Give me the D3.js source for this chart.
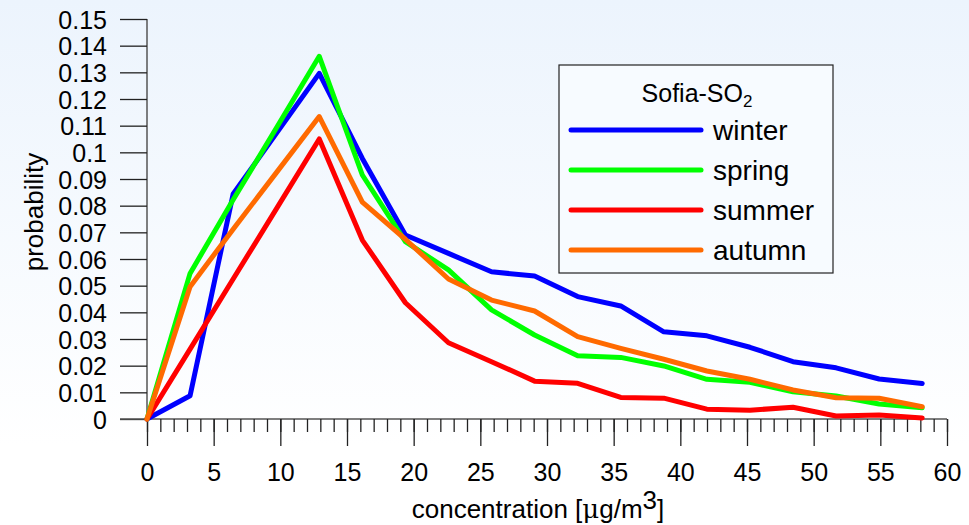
<!DOCTYPE html>
<html><head><meta charset="utf-8">
<script src="https://cdn.jsdelivr.net/npm/d3@7"></script>
<style>body{margin:0;padding:0;overflow:hidden;}svg{display:block;font-family:"Liberation Sans",Arial,sans-serif;}</style>
</head><body>
<svg id="chart" width="969" height="525"></svg>
<script>
const concentration = [0,3.23,6.46,9.69,12.92,16.15,19.38,22.61,25.84,29.07,32.3,35.53,38.76,41.99,45.22,48.45,51.68,54.91,58.14];
const winter = [0,0.0087,0.0844,0.107,0.1296,0.0977,0.069,0.0621,0.0552,0.0536,0.0459,0.0424,0.0327,0.0312,0.0269,0.0215,0.0192,0.015,0.0133];
const spring = [0,0.0546,0.0822,0.109,0.136,0.0915,0.0665,0.0559,0.0409,0.0315,0.0237,0.0231,0.0199,0.0149,0.0138,0.0102,0.0086,0.0056,0.0042];
const summer = [0,0.0262,0.0525,0.0787,0.105,0.0671,0.0436,0.0286,0.0215,0.0142,0.0134,0.0081,0.0078,0.0037,0.0033,0.0044,0.0011,0.0015,0.0004];
const autumn = [0,0.0496,0.0712,0.0923,0.1134,0.0813,0.0674,0.0525,0.0446,0.0405,0.0309,0.0265,0.0224,0.018,0.0149,0.0109,0.008,0.0078,0.0046];
const seriesNames = ["winter","spring","summer","autumn"];
const seriesColors = ["#0000ff","#00ff00","#ff0000","#ff6a00"];
const xTicks = [0,5,10,15,20,25,30,35,40,45,50,55,60];
const yTicks = [0,0.01,0.02,0.03,0.04,0.05,0.06,0.07,0.08,0.09,0.1,0.11,0.12,0.13,0.14,0.15];
const legendTitle = "Sofia-SO";

const svg = d3.select("#chart");
const defs = svg.append("defs");
const grad = defs.append("linearGradient").attr("id","bg").attr("x1",0).attr("y1",0).attr("x2",0).attr("y2",1);
grad.append("stop").attr("offset","0%").attr("stop-color","#ecf4fd");
grad.append("stop").attr("offset","85%").attr("stop-color","#ffffff");
svg.append("rect").attr("width",969).attr("height",525).attr("fill","url(#bg)");

const x = d3.scaleLinear().domain([0,60]).range([147,947]);
const y = d3.scaleLinear().domain([0,0.15]).range([419,19]);

const FONT = "'Liberation Sans',Arial,sans-serif";

// y axis
const yAxis = d3.axisLeft(y).tickValues(yTicks).tickSize(27).tickPadding(13)
  .tickFormat(d => d === 0 ? "0" : d3.format("")(+d.toFixed(2)));
const gy = svg.append("g").attr("transform","translate(147,0)").call(yAxis);
gy.select(".domain").attr("stroke","#555").attr("stroke-width",1.5).attr("d","M0,19V419");
gy.selectAll(".tick line").attr("stroke","#222").attr("stroke-width",1.3);
gy.selectAll(".tick text").attr("font-size",25).attr("fill","#000").attr("dy","0.36em").attr("font-family",FONT);

// x axis minor
const minor = d3.range(0,61,1);
const gxm = svg.append("g").attr("transform","translate(0,419)").call(d3.axisBottom(x).tickValues(minor).tickSize(13).tickFormat(""));
gxm.select(".domain").attr("stroke","#555").attr("stroke-width",1.5).attr("d","M120,0H947");
gxm.selectAll(".tick line").attr("stroke","#222").attr("stroke-width",1.3);
// x axis major
const gx = svg.append("g").attr("transform","translate(0,419)").call(d3.axisBottom(x).tickValues(xTicks).tickSize(27).tickPadding(17));
gx.select(".domain").remove();
gx.selectAll(".tick line").attr("stroke","#222").attr("stroke-width",1.3);
gx.selectAll(".tick text").attr("font-size",25).attr("fill","#000").attr("font-family",FONT);

// axis labels
svg.append("text").attr("x",538).attr("y",518).attr("text-anchor","middle").attr("font-size",26)
  .html('concentration [<tspan font-family="Symbol, DejaVu Serif">μ</tspan>g/m<tspan dy="-9">3</tspan><tspan dy="9">]</tspan>');
svg.append("text").attr("transform","translate(43,212) rotate(-90)").attr("text-anchor","middle").attr("font-size",26).text("probability");

// lines
const allSeries = [winter,spring,summer,autumn];
const line = d3.line().x((d,i)=>x(concentration[i])).y(d=>y(d));
allSeries.forEach((s,k)=>{
  svg.append("path").datum(s).attr("d",line).attr("fill","none")
    .attr("stroke",seriesColors[k]).attr("stroke-width",5).attr("stroke-linejoin","round").attr("stroke-linecap","round");
});

// legend
const lg = svg.append("g");
lg.append("rect").attr("x",559).attr("y",65).attr("width",274).attr("height",208).attr("fill","#f7fbff").attr("stroke","#222").attr("stroke-width",1.2);
const lt = lg.append("text").attr("x",697).attr("y",102).attr("text-anchor","middle").attr("font-size",25);
lt.append("tspan").text(legendTitle);
lt.append("tspan").attr("font-size",17).attr("dy",5).text("2");
seriesNames.forEach((n,k)=>{
  const yy = 130 + k*40;
  lg.append("line").attr("x1",571).attr("x2",701).attr("y1",yy).attr("y2",yy)
    .attr("stroke",seriesColors[k]).attr("stroke-width",5).attr("stroke-linecap","round");
  lg.append("text").attr("x",713).attr("y",yy+10).attr("font-size",28).text(n);
});
</script>
</body></html>
